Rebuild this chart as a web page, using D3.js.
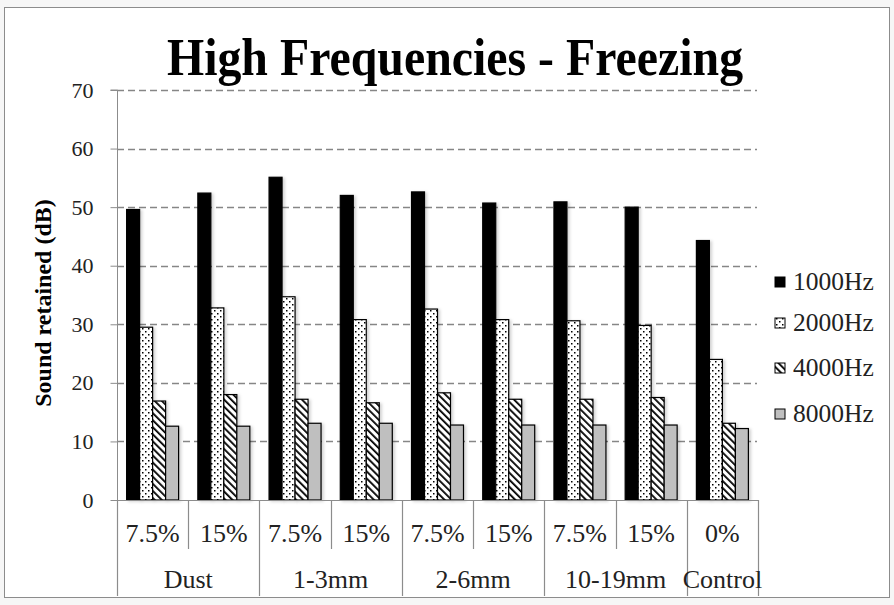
<!DOCTYPE html>
<html>
<head>
<meta charset="utf-8">
<script src="https://cdn.jsdelivr.net/npm/d3@7"></script>
<style>
  html, body { margin: 0; padding: 0; background: #fff; }
  svg { display: block; font-family: "Liberation Serif", "Times New Roman", serif; }
</style>
</head>
<body>
<svg id="chart" width="894" height="605"></svg>
<script>
// Sound retained under freezing, per material and concentration
const groups = ["Dust", "1-3mm", "2-6mm", "10-19mm", "Control"];
const subLabels = ["7.5%", "15%", "7.5%", "15%", "7.5%", "15%", "7.5%", "15%", "0%"];
const groupOf = [0, 0, 1, 1, 2, 2, 3, 3, 4];
const seriesNames = ["1000Hz", "2000Hz", "4000Hz", "8000Hz"];
const hz1000 = [49.6, 52.4, 55.1, 52.0, 52.6, 50.7, 50.9, 50.0, 44.3];
const hz2000 = [29.5, 32.8, 34.7, 30.8, 32.6, 30.8, 30.6, 29.8, 24.0];
const hz4000 = [16.9, 18.0, 17.2, 16.6, 18.3, 17.2, 17.2, 17.5, 13.1];
const hz8000 = [12.6, 12.6, 13.1, 13.1, 12.8, 12.8, 12.8, 12.8, 12.2];
const yTicks = [0, 10, 20, 30, 40, 50, 60, 70];

const seriesValues = [hz1000, hz2000, hz4000, hz8000];

const svg = d3.select("#chart");
const W = 894, H = 605;
const plot = { left: 117, right: 758, top: 90, bottom: 500 };

// page strip and chart frame
svg.append("rect").attr("x", 0).attr("y", 0).attr("width", W).attr("height", H).attr("fill", "#f6f6f6");
svg.append("rect")
  .attr("x", 4.5).attr("y", 7.5).attr("width", 885).attr("height", 590)
  .attr("fill", "#fff").attr("stroke", "#8c8c8c").attr("stroke-width", 1);

// fill patterns
const defs = svg.append("defs");
const dots = defs.append("pattern").attr("id", "dots")
  .attr("patternUnits", "userSpaceOnUse").attr("width", 6).attr("height", 6);
dots.append("rect").attr("width", 6).attr("height", 6).attr("fill", "#fff");
dots.append("rect").attr("x", 1).attr("y", 1).attr("width", 1.5).attr("height", 1.5).attr("fill", "#000");
dots.append("rect").attr("x", 4).attr("y", 4).attr("width", 1.5).attr("height", 1.5).attr("fill", "#000");

const hatch = defs.append("pattern").attr("id", "hatch")
  .attr("patternUnits", "userSpaceOnUse").attr("width", 5).attr("height", 5)
  .attr("patternTransform", "rotate(-45)");
hatch.append("rect").attr("width", 5).attr("height", 5).attr("fill", "#fff");
hatch.append("rect").attr("x", 0).attr("y", 0).attr("width", 1.8).attr("height", 5).attr("fill", "#000");

const shadow = defs.append("filter").attr("id", "shadow")
  .attr("x", "-30%").attr("y", "-10%").attr("width", "180%").attr("height", "130%");
shadow.append("feDropShadow").attr("dx", 2).attr("dy", 1).attr("stdDeviation", 1.5)
  .attr("flood-color", "#000").attr("flood-opacity", 0.18);

const fills = ["#000", "url(#dots)", "url(#hatch)", "#bfbfbf"];

// scales
const x = d3.scaleBand().domain(d3.range(subLabels.length))
  .range([plot.left, plot.right]).paddingInner(0).paddingOuter(0);
const xs = d3.scaleBand().domain(d3.range(seriesNames.length))
  .range([0, x.bandwidth()]).paddingInner(0).paddingOuter(0.74);
const y = d3.scaleLinear().domain([0, 70]).range([plot.bottom, plot.top]);

// dashed gridlines
svg.append("g").selectAll("line").data(yTicks.filter(d => d > 0)).join("line")
  .attr("x1", plot.left).attr("x2", plot.right - 1)
  .attr("y1", d => Math.round(y(d)) + 0.5).attr("y2", d => Math.round(y(d)) + 0.5)
  .attr("stroke", "#868686").attr("stroke-width", 1.3).attr("stroke-dasharray", "7,4");

// y axis
const yAxis = svg.append("g").attr("transform", `translate(${plot.left + 0.5},0)`)
  .call(d3.axisLeft(y).tickValues(yTicks).tickSize(7).tickPadding(17).tickFormat(d3.format("d")));
yAxis.select(".domain").attr("stroke", "#8c8c8c").attr("d", `M-7,${plot.top}H0V${plot.bottom}`);
yAxis.selectAll(".tick line").attr("stroke", "#8c8c8c");
yAxis.selectAll(".tick text").attr("font-size", 22).attr("fill", "#222")
  .attr("font-family", "Liberation Serif, Times New Roman, serif");

// bars
const barData = [];
seriesValues.forEach((vals, s) => vals.forEach((v, i) => barData.push({ s, i, v })));
svg.append("g").selectAll("rect").data(barData).join("rect")
  .attr("x", d => x(d.i) + xs(d.s))
  .attr("y", d => y(d.v))
  .attr("width", xs.bandwidth())
  .attr("height", d => y(0) - y(d.v))
  .attr("fill", d => fills[d.s])
  .attr("stroke", "#000")
  .attr("stroke-width", 1.2)
  .attr("filter", "url(#shadow)");

// x axis: baseline, separators and two label rows
const xg = svg.append("g").attr("stroke", "#8c8c8c").attr("stroke-width", 1.2);
xg.append("line").attr("x1", plot.left).attr("x2", plot.right)
  .attr("y1", plot.bottom + 0.5).attr("y2", plot.bottom + 0.5);
const bounds = d3.range(subLabels.length + 1);
xg.selectAll("line.sep").data(bounds).join("line").attr("class", "sep")
  .attr("x1", i => Math.round(i < subLabels.length ? x(i) : plot.right) + 0.5)
  .attr("x2", i => Math.round(i < subLabels.length ? x(i) : plot.right) + 0.5)
  .attr("y1", plot.bottom)
  .attr("y2", i => (i === 0 || i === subLabels.length || groupOf[i] !== groupOf[i - 1]) ? 596 : 549);

svg.append("g").selectAll("text").data(subLabels).join("text")
  .attr("x", (d, i) => x(i) + x.bandwidth() / 2)
  .attr("y", 542)
  .attr("text-anchor", "middle").attr("font-size", 26).attr("fill", "#222")
  .text(d => d);

svg.append("g").selectAll("text").data(groups).join("text")
  .attr("x", (d, g) => {
    const idx = d3.range(subLabels.length).filter(i => groupOf[i] === g);
    return (x(idx[0]) + x(idx[idx.length - 1]) + x.bandwidth()) / 2;
  })
  .attr("y", 588)
  .attr("text-anchor", "middle").attr("font-size", 26).attr("fill", "#222")
  .text(d => d);

// title
svg.append("text").attr("transform", "translate(455,75) scale(0.92,1)").attr("text-anchor", "middle")
  .attr("font-size", 52).attr("font-weight", "bold").attr("fill", "#000")
  .text("High Frequencies - Freezing");

// y axis title
svg.append("text").attr("transform", "translate(51,303) rotate(-90)")
  .attr("text-anchor", "middle").attr("font-size", 24).attr("font-weight", "bold").attr("fill", "#000")
  .text("Sound retained (dB)");

// legend
const legendY = [282, 323, 368, 414];
const lg = svg.append("g").selectAll("g").data(seriesNames).join("g")
  .attr("transform", (d, i) => `translate(775,${legendY[i]})`);
lg.append("rect").attr("x", 0).attr("y", -5).attr("width", 10).attr("height", 10)
  .attr("fill", (d, i) => fills[i]).attr("stroke", "#000").attr("stroke-width", 1);
lg.append("text").attr("x", 18).attr("y", 8).attr("font-size", 25.5).attr("fill", "#222")
  .text(d => d);
</script>
</body>
</html>
